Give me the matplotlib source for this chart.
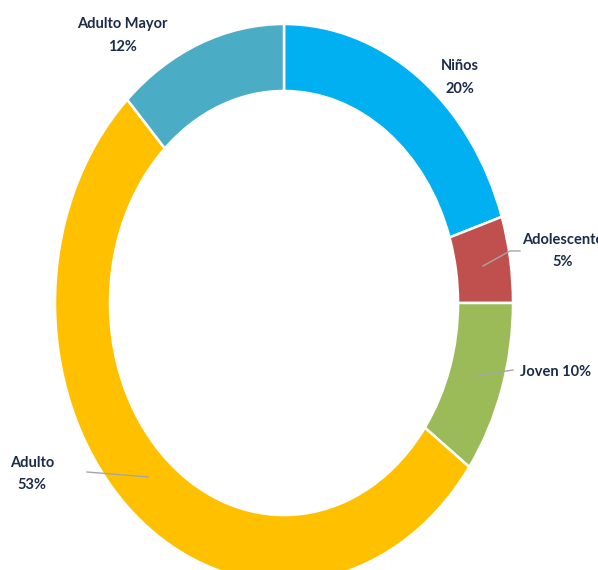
import matplotlib
matplotlib.use("Agg")
import matplotlib.pyplot as plt

categories = ["Niños", "Adolescente", "Joven", "Adulto", "Adulto Mayor"]
values = [20, 5, 10, 53, 12]
colors = ["#00B0F0", "#C0504D", "#9BBB59", "#FFC000", "#4BACC6"]

W, H = 598, 570
fig = plt.figure(figsize=(W / 100, H / 100), dpi=100)
ax = fig.add_axes([0, 0, 1, 1])

cx, cy, rx, ry = 284, 303, 229, 279  # pixel geometry of the ring

ax.pie(values, colors=colors, startangle=90, counterclock=False, radius=1,
       wedgeprops=dict(width=0.24, edgecolor="white", linewidth=1.8))
ax.set_aspect("auto")
ax.set_xlim(-cx / rx, (W - cx) / rx)
ax.set_ylim(-(H - cy) / ry, cy / ry)
ax.axis("off")

def d(px, py):
    return ((px - cx) / rx, (cy - py) / ry)

txtc = "#1C2B4A"
font = dict(family=["Lato", "DejaVu Sans"], fontweight="bold", fontsize=10.5, color=txtc)

labels = [
    (f"{categories[4]}\n{values[4]}%", 122, 35.5, "center"),
    (f"{categories[0]}\n{values[0]}%", 460, 77.5, "center"),
    (f"{categories[1]}\n{values[1]}%", 563, 251, "center"),
    (f"{categories[2]} {values[2]}%", 520, 372, "left"),
    (f"{categories[3]}\n{values[3]}%", 32, 474, "center"),
]
for t, px, py, ha in labels:
    x, y = d(px, py)
    ax.text(x, y, t, ha=ha, va="center", linespacing=1.8, clip_on=False, **font)

leaders = [
    [(483, 266), (510, 251), (520, 251)],
    [(475, 376), (513, 370)],
    [(148, 477), (87, 472)],
]
for pts in leaders:
    xs, ys = zip(*[d(*p) for p in pts])
    ax.plot(xs, ys, color="#A6A6A6", lw=1.0)

fig.savefig("out.png", dpi=100)
